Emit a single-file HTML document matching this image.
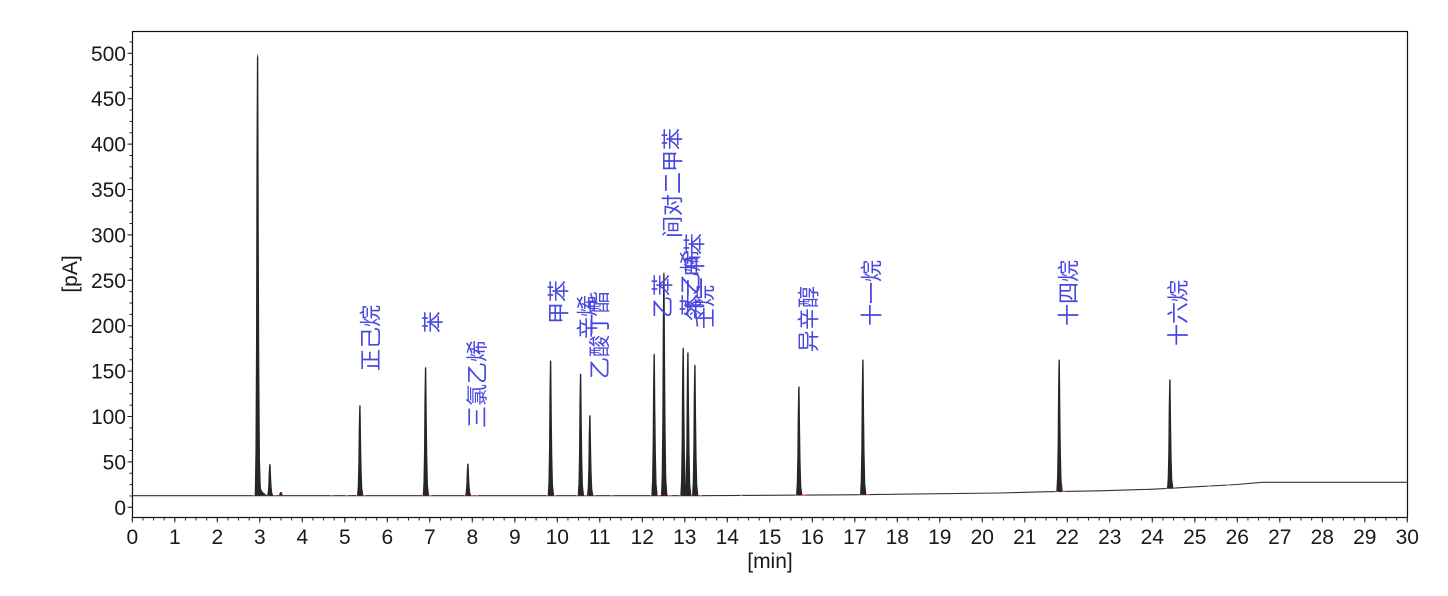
<!DOCTYPE html>
<html>
<head>
<meta charset="utf-8">
<style>
  html, body { margin:0; padding:0; background:#fff; }
  svg { display:block; }
  .tk { font-family:"Liberation Sans", Arial, sans-serif; font-size:21px; fill:#1a1a1a; }
  .lb { font-family:"Liberation Sans", "Noto Sans CJK SC", sans-serif; font-size:22px; fill:#4848e0; }
</style>
</head>
<body>
<svg width="1448" height="596" viewBox="0 0 1448 596" xmlns="http://www.w3.org/2000/svg">
  <defs>
    <path id="pk" d="M-3,0 L-2.3,-0.1 L-1.7,-0.35 L-1.3,-0.75 L-0.8,-0.99 L0,-1 L0.6,-0.99 L1.1,-0.6 L1.6,-0.3 L2.3,-0.08 L3.4,0 Z"/>
    <pattern id="xminor" patternUnits="userSpaceOnUse" x="131.8" y="0" width="10.625" height="600">
      <rect x="0" y="0" width="1" height="600" fill="#222"/>
    </pattern>
    <pattern id="yminor" patternUnits="userSpaceOnUse" x="0" y="506.8" width="200" height="11.35">
      <rect x="0" y="0" width="200" height="1" fill="#222"/>
    </pattern>
  </defs>

  <rect x="0" y="0" width="1448" height="596" fill="#fff"/>

  <!-- minor ticks -->
  <rect x="131.5" y="517.5" width="1276.5" height="3" fill="url(#xminor)"/>
  <rect x="129.5" y="32" width="3" height="485" fill="url(#yminor)"/>

  <!-- major ticks -->
  <g stroke="#222" stroke-width="1">
    <path d="M132.3,517.5v5 M174.8,517.5v5 M217.3,517.5v5 M259.8,517.5v5 M302.3,517.5v5 M344.8,517.5v5 M387.3,517.5v5 M429.8,517.5v5 M472.3,517.5v5 M514.8,517.5v5 M557.3,517.5v5 M599.8,517.5v5 M642.3,517.5v5 M684.8,517.5v5 M727.3,517.5v5 M769.8,517.5v5 M812.3,517.5v5 M854.8,517.5v5 M897.3,517.5v5 M939.8,517.5v5 M982.3,517.5v5 M1024.8,517.5v5 M1067.3,517.5v5 M1109.8,517.5v5 M1152.3,517.5v5 M1194.8,517.5v5 M1237.3,517.5v5 M1279.8,517.5v5 M1322.3,517.5v5 M1364.8,517.5v5 M1407.3,517.5v5"/>
    <path d="M127.5,507.3h5 M127.5,461.9h5 M127.5,416.5h5 M127.5,371.1h5 M127.5,325.7h5 M127.5,280.3h5 M127.5,234.9h5 M127.5,189.5h5 M127.5,144.1h5 M127.5,98.7h5 M127.5,53.3h5"/>
  </g>

  <!-- frame -->
  <rect x="132.5" y="31.5" width="1275" height="486" fill="none" stroke="#111" stroke-width="1.2"/>

  <!-- baseline -->
  <path d="M132.3,495.7 L700,495.7 L850,494.8 L1000,493 L1043,491.8 L1100,490.8 L1150,489.3 L1170,488.3 L1195,486.8 L1237,484.5 L1262,482.3 L1407,482.3" fill="none" stroke="#333" stroke-width="1.1"/>

  <!-- small red integration marks -->
  <g stroke="#e06060" stroke-width="1.2" fill="none">
    <path d="M252,495.7h3 M262,495.7h4 M266,495.7h3 M273,495.7h3 M278,495.7h6 M356,495.7h3 M362,495.7h4 M422,495.7h3 M428,495.7h4 M464,495.7h3 M470,495.7h4 M546,495.7h3 M553,495.7h4 M576,495.7h3 M584,495.7h3 M587,495.7h2 M593,495.7h3 M650,495.7h3 M657,495.7h3 M668,495.7h4 M679,495.7h3 M691,495.7h3 M698,495.7h4 M795,495.1h3 M802,495.1h4 M859,494.6h3 M866,494.6h4 M1055,491.3h3 M1062,491.3h4 M1166,488.3h3 M1173,488.3h4 M1207,486h4 M1226,485h4 M330,495.7h3 M345,495.7h3 M475,495.7h3 M610,495.7h3 M740,495.3h3 M800,495h3"/>
  </g>

  <!-- peaks (fill only) -->
  <g fill="#262626" stroke="none">
    <use href="#pk" transform="translate(257.7,495.7) scale(1,442.4)"/>
    <path d="M256.8,495.7 L257.6,451 L259,454 L260,478 L261,489 L263,492.3 L266,494.6 L268,495.7 Z"/>
    <use href="#pk" transform="translate(270,495.7) scale(1,31.7)"/>
    <use href="#pk" transform="translate(281,495.7) scale(1,3.7)"/>
    <use href="#pk" transform="translate(360,495.7) scale(1,90.7)"/>
    <use href="#pk" transform="translate(425.7,495.7) scale(1,129)"/>
    <use href="#pk" transform="translate(468,495.7) scale(1,32.2)"/>
    <use href="#pk" transform="translate(550.7,495.7) scale(1,135.7)"/>
    <use href="#pk" transform="translate(580.7,495.7) scale(1,122.4)"/>
    <use href="#pk" transform="translate(590,495.7) scale(1,80.7)"/>
    <use href="#pk" transform="translate(654.3,495.7) scale(1,142.4)"/>
    <use href="#pk" transform="translate(664,495.7) scale(1,224)"/>
    <use href="#pk" transform="translate(683.3,495.7) scale(1,148.4)"/>
    <use href="#pk" transform="translate(688,495.7) scale(1,144)"/>
    <use href="#pk" transform="translate(695,495.7) scale(1,131.4)"/>
    <use href="#pk" transform="translate(799,495.1) scale(1,109.1)"/>
    <use href="#pk" transform="translate(863,494.6) scale(1,135.6)"/>
    <use href="#pk" transform="translate(1059.3,491.3) scale(1,132.3)"/>
    <use href="#pk" transform="translate(1170,488.3) scale(1,109.3)"/>
  </g>

  <!-- y tick labels -->
  <g class="tk" text-anchor="end">
    <text x="126" y="514.8">0</text>
    <text x="126" y="469.4">50</text>
    <text x="126" y="424">100</text>
    <text x="126" y="378.6">150</text>
    <text x="126" y="333.2">200</text>
    <text x="126" y="287.8">250</text>
    <text x="126" y="242.4">300</text>
    <text x="126" y="197">350</text>
    <text x="126" y="151.6">400</text>
    <text x="126" y="106.2">450</text>
    <text x="126" y="60.8">500</text>
  </g>

  <!-- x tick labels -->
  <g class="tk" text-anchor="middle">
    <text x="132.3" y="544">0</text>
    <text x="174.8" y="544">1</text>
    <text x="217.3" y="544">2</text>
    <text x="259.8" y="544">3</text>
    <text x="302.3" y="544">4</text>
    <text x="344.8" y="544">5</text>
    <text x="387.3" y="544">6</text>
    <text x="429.8" y="544">7</text>
    <text x="472.3" y="544">8</text>
    <text x="514.8" y="544">9</text>
    <text x="557.3" y="544">10</text>
    <text x="599.8" y="544">11</text>
    <text x="642.3" y="544">12</text>
    <text x="684.8" y="544">13</text>
    <text x="727.3" y="544">14</text>
    <text x="769.8" y="544">15</text>
    <text x="812.3" y="544">16</text>
    <text x="854.8" y="544">17</text>
    <text x="897.3" y="544">18</text>
    <text x="939.8" y="544">19</text>
    <text x="982.3" y="544">20</text>
    <text x="1024.8" y="544">21</text>
    <text x="1067.3" y="544">22</text>
    <text x="1109.8" y="544">23</text>
    <text x="1152.3" y="544">24</text>
    <text x="1194.8" y="544">25</text>
    <text x="1237.3" y="544">26</text>
    <text x="1279.8" y="544">27</text>
    <text x="1322.3" y="544">28</text>
    <text x="1364.8" y="544">29</text>
    <text x="1407.3" y="544">30</text>
  </g>

  <!-- axis titles -->
  <text class="tk" x="770" y="568" text-anchor="middle">[min]</text>
  <text class="tk" text-anchor="middle" transform="translate(77,274) rotate(-90)">[pA]</text>

  <!-- peak labels -->
  <g class="lb">
    <text transform="translate(378.5,371) rotate(-90)">正己烷</text>
    <text transform="translate(441,333) rotate(-90)">苯</text>
    <text transform="translate(485.2,428) rotate(-90)">三氯乙烯</text>
    <text transform="translate(566.5,324) rotate(-90)">甲苯</text>
    <text transform="translate(595.5,339) rotate(-90)">辛烯</text>
    <text transform="translate(607.5,379) rotate(-90)">乙酸丁酯</text>
    <text transform="translate(670.5,318) rotate(-90)">乙苯</text>
    <text transform="translate(680.5,238) rotate(-90)">间对二甲苯</text>
    <text transform="translate(698.5,316) rotate(-90)">苯乙烯</text>
    <text transform="translate(702.5,321) rotate(-90)">邻二甲苯</text>
    <text transform="translate(712.5,329) rotate(-90)">壬烷</text>
    <text transform="translate(816.5,352) rotate(-90)">异辛醇</text>
    <text transform="translate(879.5,326) rotate(-90)">十一烷</text>
    <text transform="translate(1076.5,326) rotate(-90)">十四烷</text>
    <text transform="translate(1186,346) rotate(-90)">十六烷</text>
  </g>
</svg>
</body>
</html>
